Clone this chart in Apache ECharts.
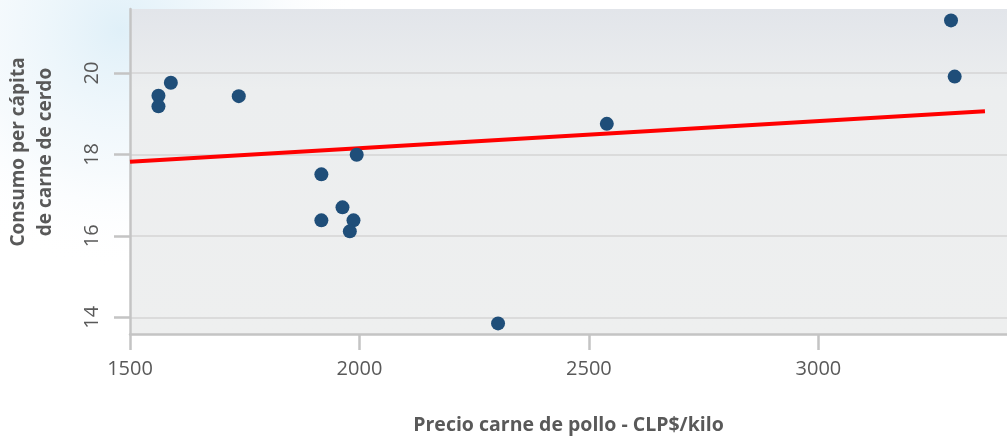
<!DOCTYPE html>
<html>
<head>
<meta charset="utf-8">
<script src="https://cdn.jsdelivr.net/npm/echarts@6/dist/echarts.min.js"></script>
<style>
  html, body { margin: 0; padding: 0; background: #fff; }
  #chart { width: 1007px; height: 440px; }
</style>
</head>
<body>
<div id="chart"></div>
<script>
// precio pollo (CLP$/kilo) vs consumo per cápita cerdo
var precioPollo = [1589, 1562, 1562, 1737, 1994, 1917, 1963, 1917, 1987, 1979, 2539, 2302, 3289, 3297];
var consumoCerdo = [19.76, 19.44, 19.18, 19.43, 17.99, 17.51, 16.70, 16.38, 16.38, 16.11, 18.75, 13.85, 21.29, 19.91];
// linea de tendencia (extremos)
var tendenciaX = [1500, 3363];
var tendenciaY = [17.82, 19.06];
var xTicks = [1500, 2000, 2500, 3000];
var yTicks = [14, 16, 18, 20];

var puntos = precioPollo.map(function (x, i) { return [x, consumoCerdo[i]]; });
var tendencia = tendenciaX.map(function (x, i) { return [x, tendenciaY[i]]; });

var chart = echarts.init(document.getElementById('chart'));

var labelFont = '"Open Sans", sans-serif';

chart.setOption({
    animation: false,
    backgroundColor: '#ffffff',
    graphic: [
        {
            type: 'rect',
            z: -10,
            silent: true,
            shape: { x: 0, y: 0, width: 600, height: 300 },
            style: {
                fill: new echarts.graphic.RadialGradient(0.2, 0.1, 0.8, [
                    { offset: 0, color: 'rgba(222,239,248,0.95)' },
                    { offset: 0.6, color: 'rgba(238,246,251,0.5)' },
                    { offset: 1, color: 'rgba(255,255,255,0)' }
                ])
            }
        },
        {
            type: 'text',
            x: 32,
            y: 152,
            rotation: Math.PI / 2,
            style: {
                text: 'Consumo per cápita\nde carne de cerdo',
                font: 'bold 19px "Open Sans", sans-serif',
                fill: '#595959',
                align: 'center',
                verticalAlign: 'middle',
                lineHeight: 27
            }
        }
    ],
    grid: {
        left: 130,
        top: 9,
        right: 0,
        bottom: 104,
        show: true,
        borderWidth: 0,
        backgroundColor: new echarts.graphic.LinearGradient(0, 0, 0, 1, [
            { offset: 0, color: '#e2e5ea' },
            { offset: 0.25, color: '#eceeef' },
            { offset: 1, color: '#eeefef' }
        ])
    },
    xAxis: {
        type: 'value',
        min: 1500,
        max: 3411,
        interval: 500,
        name: 'Precio carne de pollo - CLP$/kilo',
        nameLocation: 'middle',
        nameGap: 81,
        nameTextStyle: {
            fontFamily: labelFont,
            fontWeight: 'bold',
            fontSize: 19.5,
            color: '#595959'
        },
        axisLine: { show: true, lineStyle: { color: '#c4c4c4', width: 2.5 } },
        axisTick: {
            show: true,
            length: 16,
            customValues: xTicks,
            lineStyle: { color: '#c4c4c4', width: 2.5 }
        },
        axisLabel: {
            customValues: xTicks,
            margin: 25,
            fontFamily: labelFont,
            fontSize: 20,
            color: '#595959',
            formatter: function (v) { return String(v); }
        },
        splitLine: { show: false }
    },
    yAxis: {
        type: 'value',
        min: 13.59,
        max: 21.57,
        axisLine: { show: true, lineStyle: { color: '#c4c4c4', width: 2.5 } },
        axisTick: {
            show: true,
            length: 16,
            customValues: yTicks,
            lineStyle: { color: '#c4c4c4', width: 2.5 }
        },
        axisLabel: {
            customValues: yTicks,
            rotate: 90,
            margin: 28,
            fontFamily: labelFont,
            fontSize: 20,
            color: '#595959'
        },
        splitLine: { show: true, lineStyle: { color: '#d4d4d4', width: 1.5 } }
    },
    series: [
        {
            name: 'Tendencia',
            type: 'line',
            data: tendencia,
            showSymbol: false,
            silent: true,
            z: 2,
            lineStyle: { color: '#ff0000', width: 4 }
        },
        {
            name: 'Consumo',
            type: 'scatter',
            data: puntos,
            symbolSize: 14,
            z: 3,
            itemStyle: { color: '#1f4e79', opacity: 1 }
        }
    ]
});
</script>
</body>
</html>
